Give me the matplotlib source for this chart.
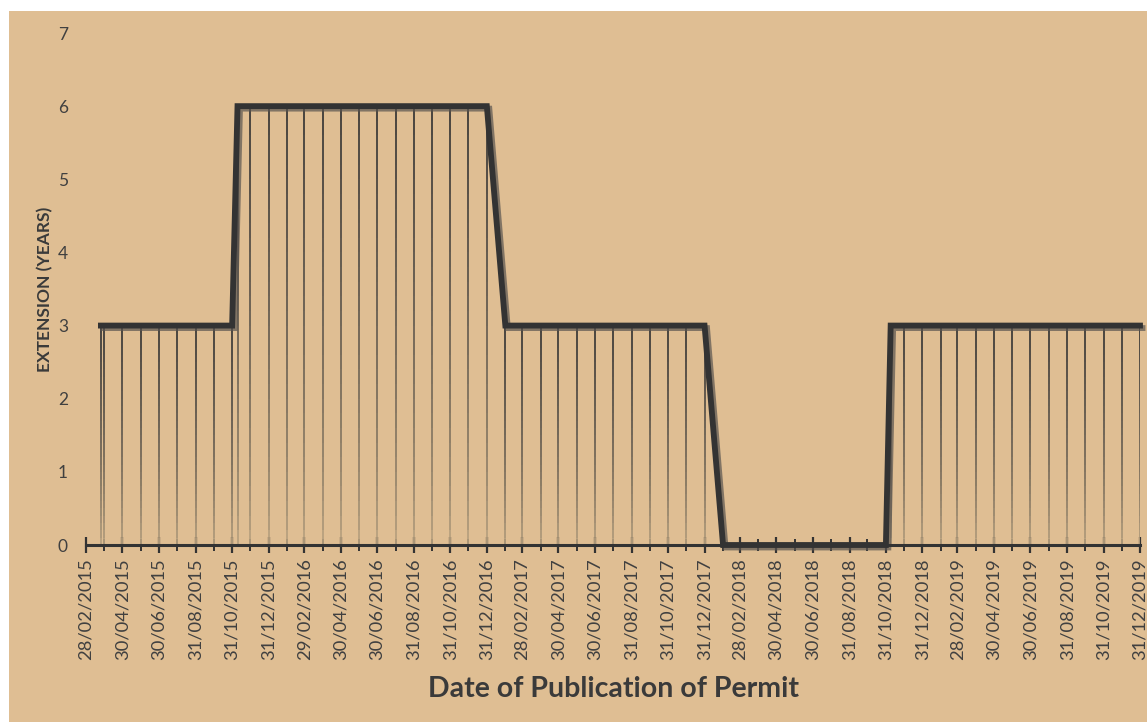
import matplotlib
matplotlib.use("Agg")
import matplotlib.pyplot as plt
import matplotlib.dates as mdates
import matplotlib.patheffects as pe
from matplotlib.collections import LineCollection
from matplotlib.patches import Rectangle
import numpy as np
import pandas as pd

# ---- data ----
dates = [
    "2015-03-25", "2015-03-31", "2015-04-30", "2015-05-31", "2015-06-30", "2015-07-31",
    "2015-08-31", "2015-09-30", "2015-10-31",
    "2015-11-09", "2015-11-30", "2015-12-31",
    "2016-01-31", "2016-02-29", "2016-03-31", "2016-04-30", "2016-05-31", "2016-06-30",
    "2016-07-31", "2016-08-31", "2016-09-30", "2016-10-31", "2016-11-30", "2016-12-31",
    "2017-01-31", "2017-02-28", "2017-03-31", "2017-04-30", "2017-05-31", "2017-06-30",
    "2017-07-31", "2017-08-31", "2017-09-30", "2017-10-31", "2017-11-30", "2017-12-31",
    "2018-01-31", "2018-02-28", "2018-03-31", "2018-04-30", "2018-05-31", "2018-06-30",
    "2018-07-31", "2018-08-31", "2018-09-30", "2018-10-31",
    "2018-11-08", "2018-11-30", "2018-12-31",
    "2019-01-31", "2019-02-28", "2019-03-31", "2019-04-30", "2019-05-31", "2019-06-30",
    "2019-07-31", "2019-08-31", "2019-09-30", "2019-10-31", "2019-11-30", "2019-12-31",
]
extension_years = [
    3, 3, 3, 3, 3, 3,
    3, 3, 3,
    6, 6, 6,
    6, 6, 6, 6, 6, 6,
    6, 6, 6, 6, 6, 6,
    3, 3, 3, 3, 3, 3,
    3, 3, 3, 3, 3, 3,
    0, 0, 0, 0, 0, 0,
    0, 0, 0, 0,
    3, 3, 3,
    3, 3, 3, 3, 3, 3,
    3, 3, 3, 3, 3, 3,
]
labeled_ticks = [
    "2015-02-28", "2015-04-30", "2015-06-30", "2015-08-31", "2015-10-31", "2015-12-31",
    "2016-02-29", "2016-04-30", "2016-06-30", "2016-08-31", "2016-10-31", "2016-12-31",
    "2017-02-28", "2017-04-30", "2017-06-30", "2017-08-31", "2017-10-31", "2017-12-31",
    "2018-02-28", "2018-04-30", "2018-06-30", "2018-08-31", "2018-10-31", "2018-12-31",
    "2019-02-28", "2019-04-30", "2019-06-30", "2019-08-31", "2019-10-31", "2019-12-31",
]
minor_ticks = [
    "2015-03-31", "2015-05-31", "2015-07-31", "2015-09-30", "2015-11-30",
    "2016-01-31", "2016-03-31", "2016-05-31", "2016-07-31", "2016-09-30", "2016-11-30",
    "2017-01-31", "2017-03-31", "2017-05-31", "2017-07-31", "2017-09-30", "2017-11-30",
    "2018-01-31", "2018-03-31", "2018-05-31", "2018-07-31", "2018-09-30", "2018-11-30",
    "2019-01-31", "2019-03-31", "2019-05-31", "2019-07-31", "2019-09-30", "2019-11-30",
]
y_ticks = [0, 1, 2, 3, 4, 5, 6, 7]

x = mdates.date2num(pd.to_datetime(dates))
y = np.array(extension_years, dtype=float)
maj = mdates.date2num(pd.to_datetime(labeled_ticks))
mnr = mdates.date2num(pd.to_datetime(minor_ticks))

BG = "#dfbe93"
DARK = "#333333"
TXT = "#404040"

W, H = 1147, 722
fig = plt.figure(figsize=(W / 100, H / 100), dpi=100, facecolor="white")
bg = Rectangle((9 / W, 0), 1 - 9 / W, 1 - 11 / H, transform=fig.transFigure,
               facecolor=BG, edgecolor="none", zorder=-10)
fig.add_artist(bg)

ax = fig.add_axes([86 / W, (H - 545) / H, (1140 - 86) / W, (545 - 33) / H])
ax.set_zorder(5)
ax.set_facecolor("none")

# gradient drop lines
top_col = np.array(matplotlib.colors.to_rgb("#3c3a38"))
bot_col = np.array(matplotlib.colors.to_rgb("#c4ab86"))
segs, cols = [], []
nseg = 30
for xi, yi in zip(x, y):
    if yi <= 0:
        continue
    edges = np.linspace(0, yi, nseg + 1)
    for k in range(nseg):
        segs.append([(xi, edges[k]), (xi, edges[k + 1])])
        t = (k + 0.5) / nseg
        f = t ** 0.6
        cols.append(bot_col * (1 - f) + top_col * f)
lc = LineCollection(segs, colors=cols, linewidths=1.3, zorder=2, capstyle="butt")
ax.add_collection(lc)

ax.plot(x, y, color=DARK, lw=4.2, solid_joinstyle="miter", zorder=4, clip_on=False,
        path_effects=[pe.SimpleLineShadow(offset=(1.8, -1.8), shadow_color="#5a5550", alpha=0.7),
                      pe.Normal()])

ax.set_xlim(maj[0], maj[-1])
ax.set_ylim(0, 7)

ax.set_xticks(maj)
ax.set_xticks(mnr, minor=True)
ax.set_xticklabels([pd.Timestamp(d).strftime("%d/%m/%Y") for d in labeled_ticks],
                   rotation=90, fontsize=13.2, color=TXT, family="Lato")
ax.tick_params(axis="x", which="major", direction="inout", length=11, width=1.6,
               color=DARK, pad=4)
ax.tick_params(axis="x", which="minor", direction="inout", length=8, width=1.4, color=DARK)

ax.set_yticks(y_ticks)
ax.set_yticklabels([str(v) for v in y_ticks], fontsize=12.5, color=TXT, family="Lato")
ax.tick_params(axis="y", length=0, pad=13)

for s in ["top", "right", "left"]:
    ax.spines[s].set_visible(False)
ax.spines["bottom"].set_color(DARK)
ax.spines["bottom"].set_linewidth(2.2)
ax.spines["bottom"].set_zorder(5)

fig.text(613 / W, 1 - 689 / H, "Date of Publication of Permit", ha="center", va="center",
         fontsize=20.5, fontweight="bold", color="#3a3a3a", family="Lato")
fig.text(45 / W, 1 - 289 / H, "EXTENSION (YEARS)", ha="center", va="center",
         rotation=90, fontsize=12.5, fontweight="bold", color="#3a3a3a", family="Lato")

fig.savefig("out.png", dpi=100, facecolor="white")
